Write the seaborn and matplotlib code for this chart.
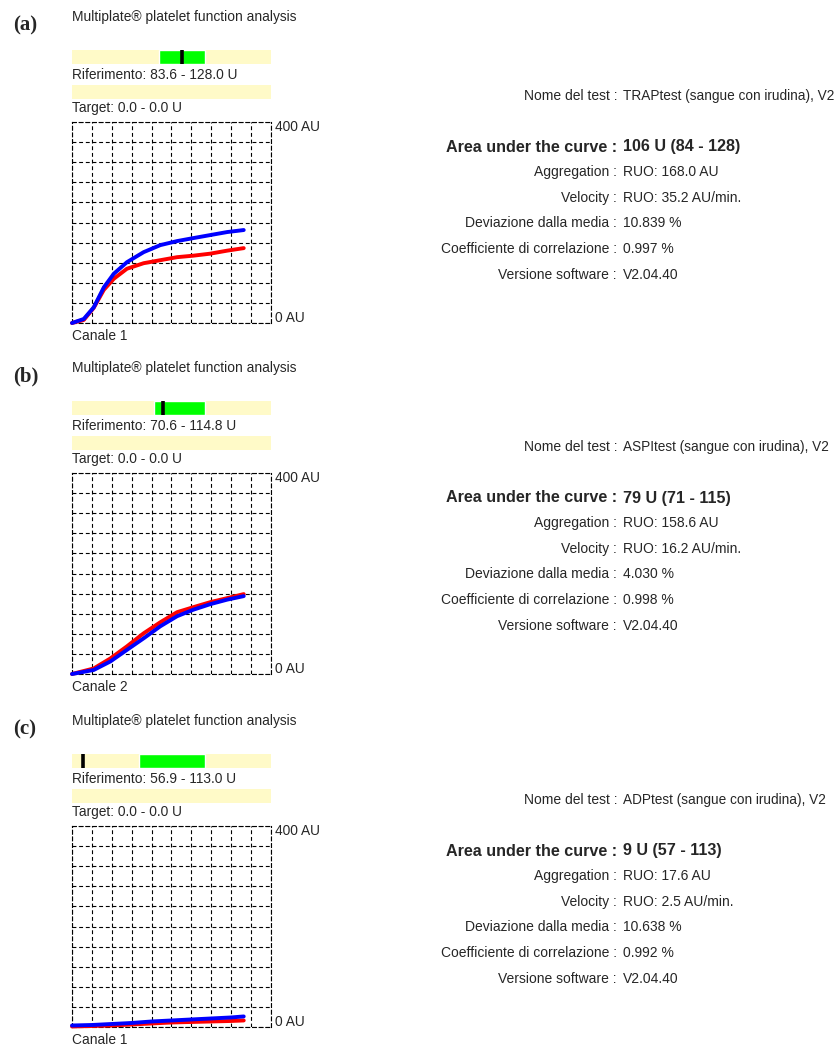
import numpy as np
import matplotlib
matplotlib.use("Agg")
import matplotlib.pyplot as plt
import seaborn as sns



panel_letters = ["(a)", "(b)", "(c)"]
channel_labels = ["Canale 1", "Canale 2", "Canale 1"]
test_names = ["TRAPtest (sangue con irudina), V2",
              "ASPItest (sangue con irudina), V2",
              "ADPtest (sangue con irudina), V2"]
auc_values = [106, 79, 9]
ref_low = [83.6, 70.6, 56.9]
ref_high = [128.0, 114.8, 113.0]
aggregation = [168.0, 158.6, 17.6]
velocity = [35.2, 16.2, 2.5]
deviation = [10.839, 4.030, 10.638]
correlation = [0.997, 0.998, 0.992]
software = "V2.04.40"

# curves (x in grid cells, y in AU)
time_a = [0, 0.59, 1.09, 1.6, 2.1, 2.76, 3.6, 4.44, 5.28, 6.1, 6.95, 7.8, 8.63]
blue_a = [0, 8, 31, 71, 98, 121, 141, 155, 163, 169, 175, 181, 185]
red_a = [0, 6, 30, 66, 88, 108, 119, 125, 131, 134, 138, 144, 149]

time_b = [0, 1.09, 1.93, 2.76, 3.6, 4.44, 5.28, 6.1, 6.95, 7.8, 8.63]
blue_b = [0, 8, 25, 48, 71, 95, 115, 128, 139, 148, 155]
red_b = [0, 11, 31, 55, 81, 103, 123, 133, 143, 151, 159]

time_c = [0, 1, 2, 3, 4, 5, 6, 7, 8, 8.63]
blue_c = [3, 4, 6, 8, 11, 13, 15, 17, 19, 21]
red_c = [1, 2, 3, 5, 7, 9, 10, 11, 12, 13]

times = [time_a, time_b, time_c]
blues = [blue_a, blue_b, blue_c]
reds = [red_a, red_b, red_c]

offsets = [0, 351, 704]


# Figure setup


sns.set_style("white")
plt.rcParams["font.family"] = ["Liberation Sans", "DejaVu Sans"]

W, H = 840, 1045
fig = plt.figure(figsize=(W / 100, H / 100), dpi=100)

YELLOW = "#fffac8"
GREEN = "#00ff00"
FS = 9.9


def px_axes(x0, y0, w, h):
    return fig.add_axes([x0 / W, 1 - (y0 + h) / H, w / W, h / H])


def put(x, y, s, **kw):
    kw.setdefault("fontsize", FS)
    fig.text(x / W, 1 - y / H, s, va="center", **kw)


def plain_bar(ax):
    ax.set_facecolor(YELLOW)
    ax.set_xticks([])
    ax.set_yticks([])
    for sp in ax.spines.values():
        sp.set_visible(False)


for i in range(3):
    o = offsets[i]

    put(13, 25 + o, panel_letters[i], family="Liberation Serif",
        fontweight="bold", fontsize=15)
    put(72, 17 + o, "Multiplate\u00ae platelet function analysis")

    # reference bar
    ax = px_axes(72, 50 + o, 199, 14)
    plain_bar(ax)
    ax.barh(0, ref_high[i] - ref_low[i], left=ref_low[i], height=1,
            color=GREEN)
    ax.axvline(auc_values[i], color="black", lw=2.6)
    ax.set_xlim(0, ref_high[i] * 1.5)
    ax.set_ylim(-0.5, 0.5)
    put(72, 75 + o, f"Riferimento: {ref_low[i]:.1f} - {ref_high[i]:.1f} U")

    # target bar
    ax = px_axes(72, 85 + o, 199, 14)
    plain_bar(ax)
    put(72, 108 + o, "Target: 0.0 - 0.0 U")

    # aggregation curves
    ax = px_axes(72, 122 + o, 199, 201)
    sns.lineplot(x=times[i], y=reds[i], color="#ff0000", lw=2.8, ax=ax,
                 clip_on=False, zorder=3)
    sns.lineplot(x=times[i], y=blues[i], color="#0000ff", lw=2.8, ax=ax,
                 clip_on=False, zorder=4)
    ax.set_xlim(0, 10)
    ax.set_ylim(0, 400)
    ax.set_xticks(np.arange(0, 11))
    ax.set_yticks(np.arange(0, 401, 40))
    ax.tick_params(length=0, labelbottom=False, labelleft=False)
    ax.grid(True, color="black", lw=0.8, ls=(0, (3.5, 2.5)))
    for sp in ax.spines.values():
        sp.set_linestyle((0, (3.5, 2.5)))
        sp.set_linewidth(0.8)
        sp.set_color("black")
    ax.set_facecolor("white")

    put(275, 127 + o, "400 AU")
    put(275, 318 + o, "0 AU")
    put(72, 336 + o, channel_labels[i])

    # report text
    rows = [
        (96, "Nome del test", test_names[i], False),
        (147, "Area under the curve",
         f"{auc_values[i]} U ({ref_low[i]:.0f} - {ref_high[i]:.0f})", True),
        (172, "Aggregation", f"RUO: {aggregation[i]:.1f} AU", False),
        (198, "Velocity", f"RUO: {velocity[i]:.1f} AU/min.", False),
        (223, "Deviazione dalla media", f"{deviation[i]:.3f} %", False),
        (249, "Coefficiente di correlazione", f"{correlation[i]:.3f} %", False),
        (275, "Versione software", software, False),
    ]
    for y, label, value, bold in rows:
        w = "bold" if bold else "normal"
        fs = 11.6 if bold else 10.0
        put(617, y + o, label + " :", ha="right", fontweight=w, fontsize=fs)
        vfs = 9.8 if label == "Nome del test" else fs
        put(623, y + o, value, ha="left", fontweight=w, fontsize=vfs)

fig.savefig("out.png", dpi=100)
